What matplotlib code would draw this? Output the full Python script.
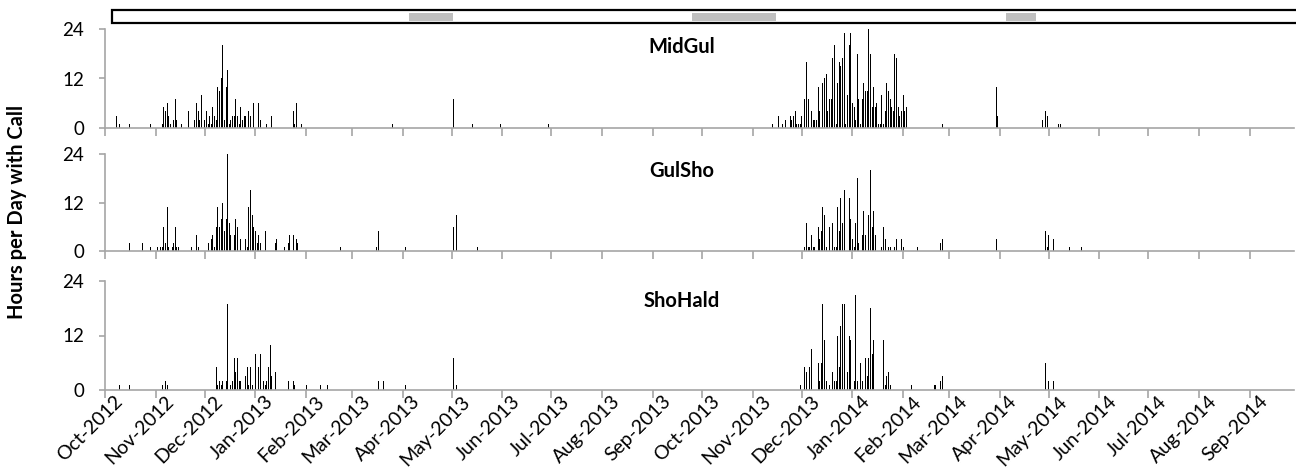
import numpy as np
import matplotlib
matplotlib.use('Agg')
import matplotlib.pyplot as plt
import matplotlib.dates as mdates
from matplotlib.patches import Rectangle
from matplotlib import transforms

plt.rcParams['font.family'] = ['Lato', 'DejaVu Sans']

# days counted from 2012-10-01, hours per day with call
start = np.datetime64('2012-10-01')

midgul_day = [7, 9, 15, 28, 35, 36, 37, 38, 39, 40, 42, 43, 44, 47, 51, 55, 56, 57, 58, 59,
              61, 62, 63, 64, 65, 66, 67, 68, 69, 70, 71, 72, 73, 74, 75, 76, 77, 78, 79, 80,
              81, 82, 83, 84, 85, 86, 88, 89, 91, 94, 95, 99, 102, 107, 115, 116, 117, 120, 176,
              213, 225, 242, 271, 408, 412, 414, 416, 417,
              419, 420, 421, 422, 423, 424, 425, 426, 428, 429, 430, 432, 433, 434, 435, 436, 437,
              439, 440, 441, 442, 443, 444, 445, 446, 447, 448, 449, 450, 451, 452, 453, 454, 455,
              456, 457, 458, 459, 460, 461, 462, 463, 464, 465, 466, 467, 468, 469, 470, 471, 472,
              473, 474, 475, 476, 477, 478, 479, 480, 481, 482, 483, 484, 485, 486, 487, 488, 489,
              490, 512, 545, 546, 573, 575, 576, 583, 584]
midgul_hours = [3, 1, 1, 1, 1, 5, 4, 6, 3, 1, 2, 7, 2, 1, 4, 2, 6, 4, 2, 8,
                2, 4, 1, 3, 1, 5, 3, 2, 10, 9, 12, 20, 2, 10, 14, 1, 2, 3, 3, 7,
                3, 1, 5, 2, 3, 3, 4, 3, 6, 6, 2, 1, 3, 2, 4, 1, 6, 1, 1,
                7, 1, 1, 1, 1, 3, 1, 2, 3,
                3, 2, 3, 4, 1, 1, 1, 3, 7, 16, 7, 4, 2, 2, 2, 10, 4,
                11, 12, 13, 4, 7, 7, 17, 20, 1, 11, 16, 15, 17, 23, 1, 8, 20,
                23, 6, 5, 2, 18, 7, 1, 7, 11, 9, 9, 24, 18, 5, 10, 5, 6,
                1, 1, 8, 1, 4, 11, 9, 7, 5, 4, 18, 17, 5, 3, 4, 8, 4,
                5, 1, 10, 3, 2, 4, 3, 1, 1]

gulsho_day = [15, 23, 28, 32, 34, 35, 36, 37, 38, 39, 41, 42, 43, 44, 45, 53, 56, 57, 63, 65,
              66, 67, 68, 69, 70, 71, 72, 73, 74, 75, 76, 77, 79, 80, 81, 83, 86, 87, 88, 89,
              90, 91, 92, 93, 94, 95, 98, 104, 105, 110, 112, 113, 115, 117, 118, 144, 166, 167,
              184, 213, 214, 215, 228,
              428, 429, 430, 431, 432, 433, 434, 436, 437, 438, 439, 440, 441, 443, 445, 446, 447,
              448, 449, 450, 451, 452, 455, 456, 457, 458, 459, 460, 461, 463, 464, 465, 467, 468,
              469, 470, 471, 475, 476, 477, 479, 480, 483, 484, 487, 488, 497, 511, 512, 545,
              575, 576, 577, 580, 590, 597]
gulsho_hours = [2, 2, 1, 1, 1, 1, 6, 2, 11, 1, 1, 2, 6, 1, 1, 1, 4, 1, 2, 3,
                4, 1, 6, 11, 6, 8, 12, 5, 8, 24, 7, 4, 4, 8, 6, 3, 3, 1, 11, 15,
                9, 6, 5, 2, 4, 2, 5, 2, 3, 1, 2, 4, 4, 3, 2, 1, 1, 5,
                1, 6, 4, 9, 1,
                1, 7, 1, 1, 4, 1, 1, 6, 3, 5, 11, 9, 1, 6, 7, 1, 1,
                11, 5, 13, 7, 15, 13, 8, 3, 1, 7, 18, 2, 4, 10, 4, 9, 20,
                6, 10, 4, 1, 6, 3, 1, 1, 1, 3, 3, 1, 1, 2, 3, 3,
                5, 1, 4, 3, 1, 1]

shohald_day = [9, 15, 35, 37, 38, 68, 69, 70, 71, 72, 74, 75, 77, 78, 79, 80, 81, 82, 83, 86,
               87, 88, 89, 90, 92, 94, 95, 96, 97, 98, 99, 100, 101, 102, 104, 112, 115, 116, 123,
               132, 136, 167, 170, 184, 213, 214, 215,
               425, 428, 429, 431, 432, 436, 437, 438, 439, 440, 441, 443, 445, 446, 447, 448, 449,
               450, 451, 452, 454, 455, 456, 458, 459, 460, 462, 463, 465, 466, 467, 468, 469, 470,
               476, 477, 478, 479, 480, 493, 507, 508, 511, 512, 575, 577, 580]
shohald_hours = [1, 1, 1, 2, 1, 5, 1, 2, 1, 2, 2, 19, 1, 2, 7, 4, 7, 2, 2, 3,
                 5, 1, 5, 1, 8, 5, 8, 9, 2, 1, 2, 5, 10, 3, 4, 2, 2, 1, 1,
                 1, 1, 2, 2, 1, 7, 3, 1,
                 1, 5, 4, 5, 9, 6, 2, 6, 19, 11, 2, 1, 4, 2, 2, 12, 5,
                 14, 19, 19, 4, 12, 11, 2, 21, 2, 6, 2, 7, 3, 7, 18, 8, 11,
                 11, 1, 3, 4, 1, 1, 1, 1, 2, 3, 6, 2, 2]

panel_names = ['MidGul', 'GulSho', 'ShoHald']
panel_days = [midgul_day, gulsho_day, shohald_day]
panel_hours = [midgul_hours, gulsho_hours, shohald_hours]

# periods shaded in the strip above the panels
gap_start = ['2013-04-05', '2013-09-25', '2014-04-05']
gap_end = ['2013-05-02', '2013-11-15', '2014-04-23']

W, H = 1296, 469
fig = plt.figure(figsize=(W / 100, H / 100), dpi=100)

# panel rectangles in pixels: top (24), bottom (0)
rows = [(29, 128), (154, 251), (281, 390)]
left_px, right_px = 105, 1294
x0 = mdates.date2num(start)
grey = '#A6A6A6'

axes = []
for i, (top, bot) in enumerate(rows):
    ax = fig.add_axes([left_px / W, 1 - bot / H, (right_px - left_px) / W, (bot - top) / H])
    x = mdates.date2num(start + np.array(panel_days[i], dtype='timedelta64[D]'))
    ax.bar(x, panel_hours[i], width=0.6, color='black', linewidth=0)
    ax.set_xlim(x0, x0 + 727)
    ax.set_ylim(0, 24)
    ax.set_yticks([0, 12, 24])
    ax.xaxis.set_major_locator(mdates.MonthLocator())
    ax.xaxis.set_major_formatter(mdates.DateFormatter('%b-%Y'))
    for s in ['top', 'right']:
        ax.spines[s].set_visible(False)
    for s in ['left', 'bottom']:
        ax.spines[s].set_color(grey)
        ax.spines[s].set_linewidth(1.2)
    ax.tick_params(axis='x', length=6, width=1.2, color=grey, labelsize=14, pad=1)
    ax.tick_params(axis='y', length=4, width=1.2, color=grey, labelsize=13.5, pad=11)
    ax.text(0.485, 0.82, panel_names[i], transform=ax.transAxes, ha='center', va='center',
            fontsize=14.5, fontweight='bold')
    if i < 2:
        ax.tick_params(axis='x', labelbottom=False)
    axes.append(ax)

ax3 = axes[2]
offset = transforms.ScaledTranslation(9 / 100, 7 / 100, fig.dpi_scale_trans)
for lab in ax3.get_xticklabels():
    lab.set_rotation(45)
    lab.set_ha('right')
    lab.set_va('top')
    lab.set_rotation_mode('anchor')
    lab.set_transform(lab.get_transform() + offset)

fig.text(17 / W, 1 - 212 / H, 'Hours per Day with Call', rotation=90, ha='center',
         va='center', fontsize=14.5, fontweight='bold')

# strip with the shaded periods
fig.add_artist(Rectangle((112 / W, 1 - 23 / H), 1.0, 12.5 / H, transform=fig.transFigure,
                         facecolor='white', edgecolor='black', linewidth=1.6, clip_on=False))
blend = transforms.blended_transform_factory(axes[0].transData, fig.transFigure)
for a, b in zip(gap_start, gap_end):
    xa = mdates.date2num(np.datetime64(a))
    xb = mdates.date2num(np.datetime64(b))
    fig.add_artist(Rectangle((xa, 1 - 21.3 / H), xb - xa, 8.4 / H, transform=blend,
                             facecolor='#BFBFBF', edgecolor='none', clip_on=False))

fig.savefig('out.png', dpi=100)
